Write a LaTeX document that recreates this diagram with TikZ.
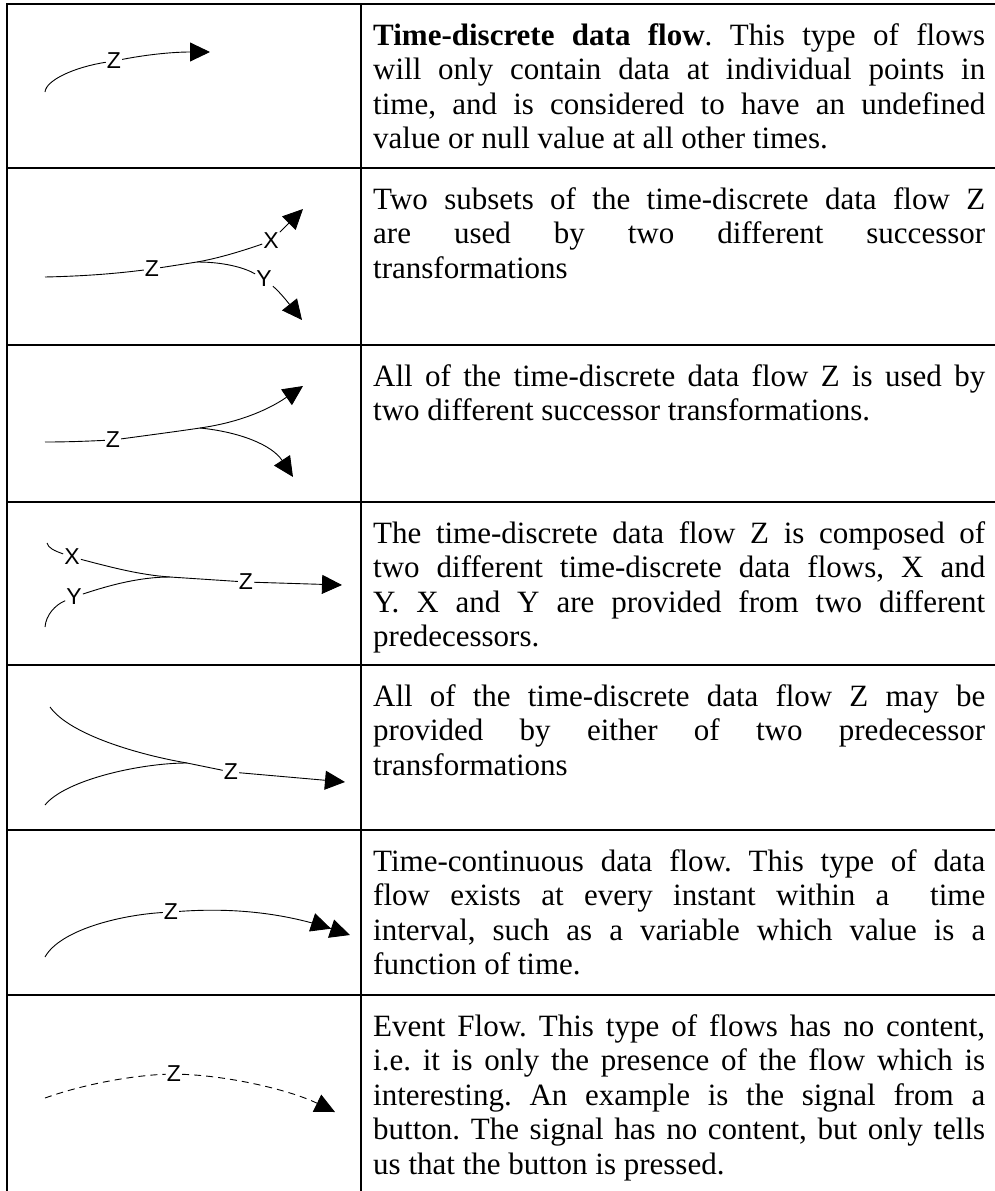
\documentclass[tikz,border=0pt]{standalone}
\usepackage{fontspec}
\setmainfont{Liberation Serif}
\newfontfamily\lblfont{Liberation Sans}
\usetikzlibrary{arrows.meta}
\newcommand\desctext{\fontsize{31}{34.5}\selectfont\frenchspacing}
\newcommand\jline[1]{\makebox[612pt][s]{#1}}
\tikzset{
  grid/.style={line width=2pt, line cap=rect},
  flow/.style={line width=0.9pt},
  evflow/.style={flow, dash pattern=on 7pt off 5pt},
  headone/.style={-{Triangle[length=20pt,width=19pt]}},
  headtwo/.style={-{Triangle[length=20pt,width=19pt]Triangle[length=20pt,width=19pt]}},
  lbl/.style={font=\lblfont\fontsize{23}{23}\selectfont, inner sep=1pt},
  txt/.style={anchor=base west, inner sep=0pt, font=\desctext},
}
\begin{document}
\begin{tikzpicture}[x=1pt,y=-1pt]
\useasboundingbox (0,0) rectangle (995,1191);
\fill[white] (0,0) rectangle (995,1191);
\clip (0,0) rectangle (995,1191);

% table rules
\foreach \yy in {4,168,345,502,665,830,995}
  \draw[grid] (7,\yy) -- (1000,\yy);
\draw[grid] (7,4) -- (7,1200);
\draw[grid] (361,4) -- (361,1200);

% --- row 1: time-discrete flow
\coordinate (a1s) at (45,92);
\node[lbl] (a1z) at (114,61) {Z};
\coordinate (a1e) at (210,52);
\draw[flow] (a1s) .. controls (46,80) and (75,67) .. (a1z);
\draw[flow,headone] (a1z) .. controls (150,54) and (175,52) .. (a1e);

% --- row 2: two subsets
\coordinate (b2s) at (45,277);
\node[lbl] (b2z) at (152,269) {Z};
\coordinate (b2m) at (197,262);
\node[lbl] (b2x) at (271,241) {X};
\coordinate (b2xe) at (303,209);
\node[lbl] (b2y) at (264,279) {Y};
\coordinate (b2ye) at (302,320);
\draw[flow] (b2s) .. controls (90,276) and (120,273) .. (b2z);
\draw[flow] (b2z) -- (b2m);
\draw[flow] (b2m) .. controls (220,258) and (245,250) .. (b2x);
\draw[flow] (b2m) .. controls (225,262) and (245,268) .. (b2y);
\draw[flow,headone] (b2x) -- (b2xe);
\draw[flow,headone] (b2y) .. controls (280,292) and (290,305) .. (b2ye);

% --- row 3: whole flow to two successors
\coordinate (c3s) at (45,442);
\node[lbl] (c3z) at (113,440) {Z};
\coordinate (c3m) at (200,428);
\coordinate (c3ue) at (303,386);
\coordinate (c3le) at (293,477);
\draw[flow] (c3s) .. controls (70,442) and (90,441) .. (c3z);
\draw[flow] (c3z) .. controls (150,435) and (180,431) .. (c3m);
\draw[flow,headone] (c3m) .. controls (235,423) and (265,412) .. (c3ue);
\draw[flow,headone] (c3m) .. controls (240,432) and (272,445) .. (c3le);

% --- row 4: composed of X and Y
\node[lbl] (d4x) at (72,557) {X};
\node[lbl] (d4y) at (74,597) {Y};
\node[lbl] (d4z) at (246,582) {Z};
\coordinate (d4xs) at (47,543);
\coordinate (d4ys) at (45,627);
\coordinate (d4m) at (170,577);
\coordinate (d4e) at (342,585);
\draw[flow] (d4xs) .. controls (48,548) and (55,551) .. (d4x);
\draw[flow] (d4ys) .. controls (46,615) and (55,605) .. (d4y);
\draw[flow] (d4x) .. controls (110,567) and (140,575) .. (d4m);
\draw[flow] (d4y) .. controls (110,585) and (140,577) .. (d4m);
\draw[flow] (d4m) -- (d4z);
\draw[flow,headone] (d4z) -- (d4e);

% --- row 5: either of two predecessors
\coordinate (e5a) at (50,707);
\coordinate (e5b) at (45,805);
\coordinate (e5m) at (187,763);
\node[lbl] (e5z) at (231,772) {Z};
\coordinate (e5e) at (345,782);
\draw[flow] (e5a) .. controls (70,735) and (140,755) .. (e5m);
\draw[flow] (e5b) .. controls (65,780) and (140,763) .. (e5m);
\draw[flow] (e5m) -- (e5z);
\draw[flow,headone] (e5z) -- (e5e);

% --- row 6: time-continuous flow
\coordinate (f6s) at (45,957);
\node[lbl] (f6z) at (171,912) {Z};
\coordinate (f6e) at (350,935);
\draw[flow] (f6s) .. controls (60,930) and (120,915) .. (f6z);
\draw[flow,headtwo] (f6z) .. controls (240,907) and (290,915) .. (f6e);

% --- row 7: event flow
\coordinate (g7s) at (45,1098);
\node[lbl] (g7z) at (174,1074) {Z};
\coordinate (g7e) at (335,1112);
\draw[evflow] (g7s) .. controls (90,1082) and (140,1075) .. (g7z);
\draw[evflow,headone] (g7z) .. controls (230,1076) and (290,1090) .. (g7e);

% --- descriptions
\node[txt] (t11) at (373,45)   {\jline{\textbf{Time-discrete data flow}. This type of flows}};
\node[txt] (t12) at (373,79.5) {\jline{will only contain data at individual points in}};
\node[txt] (t13) at (373,114)  {\jline{time, and is considered to have an undefined}};
\node[txt] (t14) at (373,148.5){value or null value at all other times.};

\node[txt] (t21) at (373,209)  {\jline{Two subsets of the time-discrete data flow Z}};
\node[txt] (t22) at (373,243.5){\jline{are used by two different successor}};
\node[txt] (t23) at (373,278)  {transformations};

\node[txt] (t31) at (373,386)  {\jline{All of the time-discrete data flow Z is used by}};
\node[txt] (t32) at (373,420.5){two different successor transformations.};

\node[txt] (t41) at (373,543)  {\jline{The time-discrete data flow Z is composed of}};
\node[txt] (t42) at (373,577.5){\jline{two different time-discrete data flows, X and}};
\node[txt] (t43) at (373,612)  {\jline{Y. X and Y are provided from two different}};
\node[txt] (t44) at (373,646.5){predecessors.};

\node[txt] (t51) at (373,706)  {\jline{All of the time-discrete data flow Z may be}};
\node[txt] (t52) at (373,740.5){\jline{provided by either of two predecessor}};
\node[txt] (t53) at (373,775)  {transformations};

\node[txt] (t61) at (373,871)  {\jline{Time-continuous data flow. This type of data}};
\node[txt] (t62) at (373,905.5){\jline{flow exists at every instant within a\ \ time}};
\node[txt] (t63) at (373,940)  {\jline{interval, such as a variable which value is a}};
\node[txt] (t64) at (373,974.5){function of time.};

\node[txt] (t71) at (373,1036)  {\jline{Event Flow. This type of flows has no content,}};
\node[txt] (t72) at (373,1070.5){\jline{i.e. it is only the presence of the flow which is}};
\node[txt] (t73) at (373,1105)  {\jline{interesting. An example is the signal from a}};
\node[txt] (t74) at (373,1139.5){\jline{button. The signal has no content, but only tells}};
\node[txt] (t75) at (373,1174)  {us that the button is pressed.};
\end{tikzpicture}
\end{document}
